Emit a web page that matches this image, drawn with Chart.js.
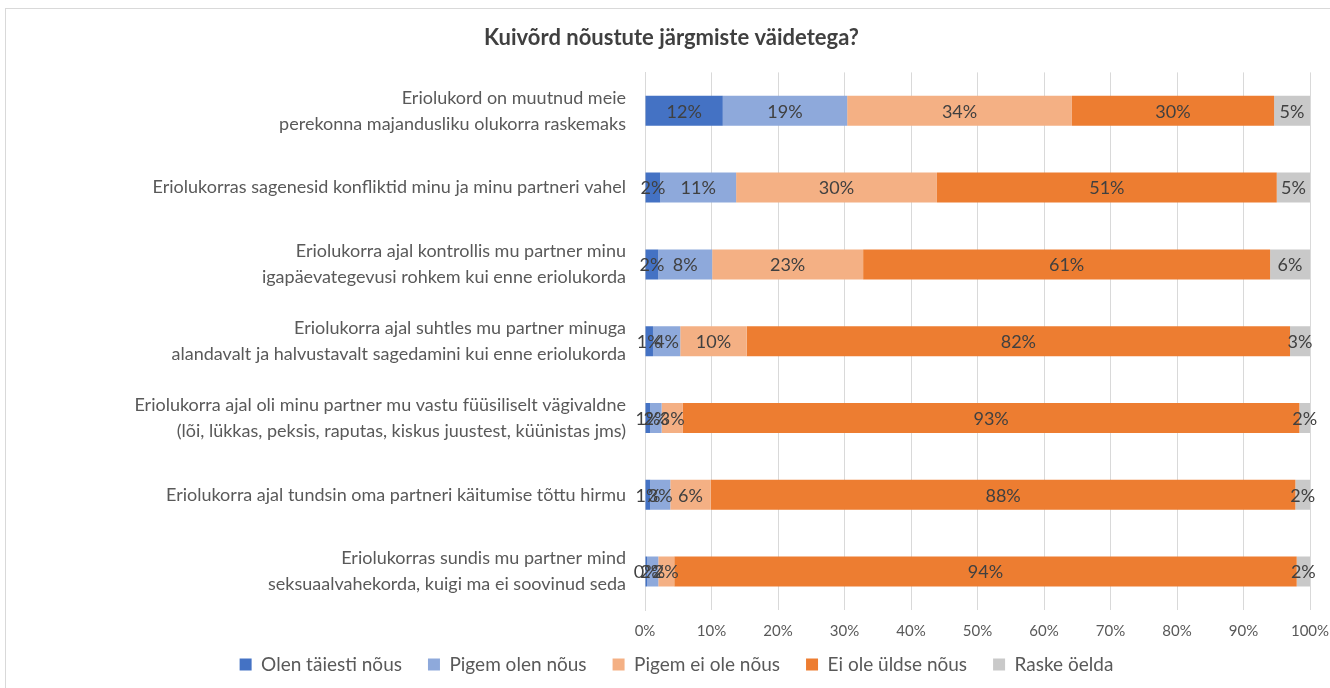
<!DOCTYPE html>
<html>
<head>
<meta charset="utf-8">
<script src="https://cdn.jsdelivr.net/npm/chart.js@4.4.1/dist/chart.umd.min.js"></script>
<style>
  html, body { margin: 0; padding: 0; background: #fff; overflow: hidden; }
  #frame { position: absolute; left: 5px; top: 8px; width: 1340px; height: 700px; border: 1px solid #d9d9d9; }
  #wrap { position: absolute; left: 0; top: 0; width: 1330px; height: 730px; }
</style>
</head>
<body>
<div id="frame"></div>
<div id="wrap"><canvas id="chart" width="1330" height="730"></canvas></div>
<script>
// statements (top to bottom)
const categories = [
    ["Eriolukord on muutnud meie", "perekonna majandusliku olukorra raskemaks"],
    "Eriolukorras sagenesid konfliktid minu ja minu partneri vahel",
    ["Eriolukorra ajal kontrollis mu partner minu", "igapäevategevusi rohkem kui enne eriolukorda"],
    ["Eriolukorra ajal suhtles mu partner minuga", "alandavalt ja halvustavalt sagedamini kui enne eriolukorda"],
    ["Eriolukorra ajal oli minu partner mu vastu füüsiliselt vägivaldne", "(lõi, lükkas, peksis, raputas, kiskus juustest, küünistas jms)"],
    "Eriolukorra ajal tundsin oma partneri käitumise tõttu hirmu",
    ["Eriolukorras sundis mu partner mind", "seksuaalvahekorda, kuigi ma ei soovinud seda"]
];

const seriesNames = ["Olen täiesti nõus", "Pigem olen nõus", "Pigem ei ole nõus", "Ei ole üldse nõus", "Raske öelda"];

// percentages per statement
const fullyAgree    = [11.7, 2.3, 2.0, 1.2, 0.8, 0.8, 0.3];
const ratherAgree   = [18.7, 11.4, 8.1, 4.1, 1.7, 3.0, 1.7];
const ratherDisagree= [33.8, 30.2, 22.7, 10.0, 3.2, 6.1, 2.4];
const notAtAll      = [30.4, 51.1, 61.2, 81.7, 92.7, 87.9, 93.6];
const hardToSay     = [5.4, 5.0, 6.0, 3.0, 1.6, 2.2, 2.0];

const xTicks = [0, 10, 20, 30, 40, 50, 60, 70, 80, 90, 100];

const colors = ["#4472C4", "#8EA9DB", "#F4B084", "#ED7D31", "#C9C9C9"];
const FONT = "Lato, 'Open Sans', sans-serif";

const seriesValues = [fullyAgree, ratherAgree, ratherDisagree, notAtAll, hardToSay];

/*** Data labels drawn in the middle of each segment ***/
const segmentLabels = {
    id: "segmentLabels",
    afterDatasetsDraw(chart) {
        const ctx = chart.ctx;
        ctx.save();
        ctx.font = "18px " + FONT;
        ctx.fillStyle = "#404040";
        ctx.textAlign = "center";
        ctx.textBaseline = "middle";
        chart.data.datasets.forEach((ds, di) => {
            const meta = chart.getDatasetMeta(di);
            meta.data.forEach((bar, i) => {
                const x = (bar.x + bar.base) / 2;
                ctx.fillText(Math.round(ds.data[i]) + "%", x, bar.y + 1);
            });
        });
        ctx.restore();
    }
};

/*** Shift title and legend a little (the frame is wider than the page) ***/
const nudgeBoxes = {
    id: "nudgeBoxes",
    afterLayout(chart) {
        chart.titleBlock.left += 14;
        chart.titleBlock.right += 14;
        chart.legend.left += 19;
        chart.legend.right += 19;
        chart.legend.top -= 23;
        chart.legend.bottom -= 23;
    }
};

new Chart(document.getElementById("chart"), {
    type: "bar",
    data: {
        labels: categories,
        datasets: seriesNames.map((name, i) => ({
            label: name,
            data: seriesValues[i],
            backgroundColor: colors[i],
            borderWidth: 0,
            barPercentage: 0.39,
            categoryPercentage: 1
        }))
    },
    options: {
        indexAxis: "y",
        responsive: false,
        animation: false,
        layout: { padding: { left: 5, right: 20, top: 0, bottom: 23 } },
        scales: {
            x: {
                stacked: true,
                min: 0,
                max: 100,
                afterBuildTicks: scale => { scale.ticks = xTicks.map(v => ({ value: v })); },
                afterFit: scale => {
                    scale.paddingLeft = 0;
                    scale.paddingRight = 0;
                },
                ticks: {
                    callback: v => v + "%",
                    color: "#595959",
                    font: { family: FONT, size: 15 },
                    padding: 12
                },
                grid: { color: "#d9d9d9", drawTicks: false },
                border: { display: false }
            },
            y: {
                stacked: true,
                afterFit: scale => { scale.width = 640; },
                ticks: {
                    color: "#595959",
                    font: { family: FONT, size: 18, lineHeight: 1.45 },
                    padding: 19
                },
                grid: { display: false, drawTicks: false },
                border: { display: true, color: "#d9d9d9" }
            }
        },
        plugins: {
            title: {
                display: true,
                text: "Kuivõrd nõustute järgmiste väidetega?",
                color: "#404040",
                font: { family: FONT, size: 22, weight: "bold" },
                padding: { top: 25, bottom: 21 }
            },
            legend: {
                position: "bottom",
                labels: {
                    boxWidth: 12,
                    boxHeight: 12,
                    color: "#595959",
                    font: { family: FONT, size: 19 },
                    padding: 26
                }
            },
            tooltip: { enabled: false }
        }
    },
    plugins: [segmentLabels, nudgeBoxes]
});
</script>
</body>
</html>
